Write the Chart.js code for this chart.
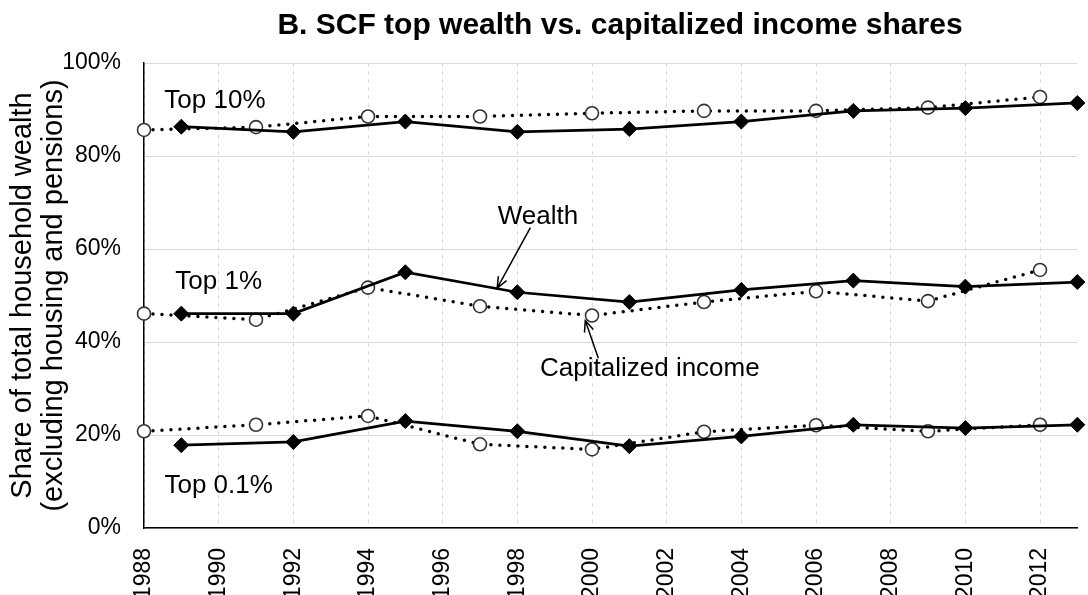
<!DOCTYPE html>
<html>
<head>
<meta charset="utf-8">
<script src="https://cdn.jsdelivr.net/npm/chart.js@4/dist/chart.umd.min.js"></script>
<style>
  html, body { margin: 0; padding: 0; background: #fff; }
  #wrap { width: 1088px; height: 595px; }
</style>
</head>
<body>
<div id="wrap"><canvas id="chart" width="1088" height="595"></canvas></div>
<script>
// --- data ---
const wealthYears = [1989, 1992, 1995, 1998, 2001, 2004, 2007, 2010, 2013];
const incomeYears = [1988, 1991, 1994, 1997, 2000, 2003, 2006, 2009, 2012];

const top10Wealth  = [86.3, 85.2, 87.4, 85.2, 85.8, 87.4, 89.7, 90.3, 91.4];
const top1Wealth   = [46.1, 46.1, 55.0, 50.7, 48.6, 51.2, 53.2, 51.9, 52.9];
const top01Wealth  = [17.8, 18.5, 23.0, 20.8, 17.6, 19.7, 22.2, 21.5, 22.2];

const top10Income  = [85.6, 86.2, 88.5, 88.5, 89.2, 89.7, 89.7, 90.4, 92.7];
const top1Income   = [46.1, 44.8, 51.7, 47.7, 45.7, 48.6, 50.9, 48.8, 55.5];
const top01Income  = [20.8, 22.2, 24.1, 18.0, 16.9, 20.7, 22.1, 20.8, 22.2];

const chartTitle = 'B. SCF top wealth vs. capitalized income shares';
const yTitle = ['Share of total household wealth', '(excluding housing and pensions)'];

// text labels in the plot, placed in data units (year, percent)
const labels = [
  { text: 'Top 10%', x: 1989.9, y: 91.8 },
  { text: 'Top 1%', x: 1990.0, y: 52.9 },
  { text: 'Top 0.1%', x: 1990.0, y: 9.0 },
  { text: 'Wealth', x: 1998.55, y: 67.0 },
  { text: 'Capitalized income', x: 2001.55, y: 34.3 }
];
const arrows = [
  { from: [1998.35, 64.6], to: [1997.46, 51.6] },
  { from: [2000.17, 36.5], to: [1999.82, 44.6] }
];

const FONT = '"Liberation Sans", Arial, sans-serif';

function pts(xs, ys) {
  return xs.map((x, i) => ({ x: x, y: ys[i] }));
}

function wealthSet(ys) {
  return {
    data: pts(wealthYears, ys),
    borderColor: '#000',
    borderWidth: 2.75,
    pointStyle: 'rectRot',
    pointRadius: 7.5,
    pointBackgroundColor: '#000',
    pointBorderColor: '#000',
    pointBorderWidth: 1,
    tension: 0
  };
}

function incomeSet(ys) {
  return {
    data: pts(incomeYears, ys),
    borderColor: '#000',
    borderWidth: 3.5,
    borderDash: [0, 9],
    borderCapStyle: 'round',
    pointStyle: 'circle',
    pointRadius: 6.5,
    pointBackgroundColor: '#fff',
    pointBorderColor: '#333',
    pointBorderWidth: 1.6,
    tension: 0
  };
}

function drawArrow(ctx, x1, y1, x2, y2) {
  const a = Math.atan2(y2 - y1, x2 - x1);
  const h = 12;
  ctx.beginPath();
  ctx.moveTo(x1, y1);
  ctx.lineTo(x2, y2);
  ctx.moveTo(x2 - h * Math.cos(a - 0.4), y2 - h * Math.sin(a - 0.4));
  ctx.lineTo(x2, y2);
  ctx.lineTo(x2 - h * Math.cos(a + 0.4), y2 - h * Math.sin(a + 0.4));
  ctx.stroke();
}

// annotations + title
const annotate = {
  id: 'annotate',
  afterDatasetsDraw(chart) {
    const { ctx, scales: { x, y } } = chart;
    ctx.save();
    ctx.fillStyle = '#000';
    ctx.font = '26px ' + FONT;
    ctx.textAlign = 'center';
    ctx.textBaseline = 'middle';
    labels.forEach(l => ctx.fillText(l.text, x.getPixelForValue(l.x), y.getPixelForValue(l.y)));

    ctx.strokeStyle = '#000';
    ctx.lineWidth = 1.5;
    arrows.forEach(a => drawArrow(ctx,
      x.getPixelForValue(a.from[0]), y.getPixelForValue(a.from[1]),
      x.getPixelForValue(a.to[0]), y.getPixelForValue(a.to[1])));

    ctx.font = 'bold 30px ' + FONT;
    ctx.fillText(chartTitle, 620, 26);
    ctx.restore();
  }
};

const ctx = document.getElementById('chart').getContext('2d');
new Chart(ctx, {
  type: 'line',
  data: {
    datasets: [
      wealthSet(top10Wealth), wealthSet(top1Wealth), wealthSet(top01Wealth),
      incomeSet(top10Income), incomeSet(top1Income), incomeSet(top01Income)
    ]
  },
  options: {
    responsive: false,
    devicePixelRatio: 1,
    animation: false,
    clip: false,
    layout: { padding: { top: 63, right: 10, left: 0, bottom: 0 } },
    plugins: { legend: { display: false }, tooltip: { enabled: false }, title: { display: false } },
    scales: {
      x: {
        type: 'linear',
        min: 1988,
        max: 2013,
        grid: { color: '#d9d9d9', lineWidth: 1, drawTicks: false },
        border: { color: '#000', width: 1.5, dash: [4, 4] },   // dash = dashed vertical grid lines
        ticks: {
          stepSize: 2,
          includeBounds: false,
          minRotation: 90,
          maxRotation: 90,
          padding: 20,
          color: '#000',
          font: { family: FONT, size: 23 },
          callback: v => String(v)
        },
        afterFit(scale) { scale.height = 67; }
      },
      y: {
        min: 0,
        max: 100,
        grid: { color: '#d9d9d9', lineWidth: 1, drawTicks: false },
        border: { color: '#000', width: 1.5 },
        ticks: {
          stepSize: 20,
          padding: 23,
          color: '#000',
          font: { family: FONT, size: 23 },
          callback: v => v + '%'
        },
        title: {
          display: true,
          text: yTitle,
          color: '#000',
          font: { family: FONT, size: 29, lineHeight: 1.08 },
          padding: { top: 7, bottom: 0 }
        },
        afterFit(scale) { scale.width = 144; }
      }
    }
  },
  plugins: [annotate]
});
</script>
</body>
</html>
